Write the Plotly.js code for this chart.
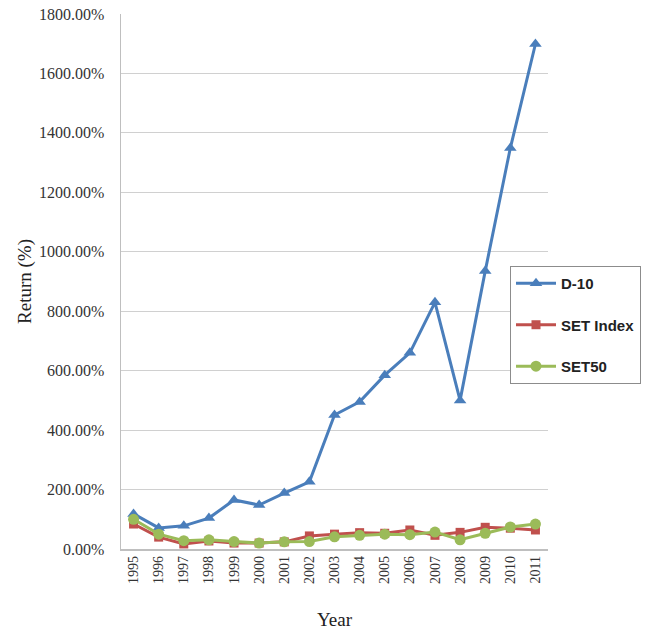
<!DOCTYPE html>
<html>
<head>
<meta charset="utf-8">
<script src="https://cdn.plot.ly/plotly-3.0.1.min.js"></script>
<style>
html,body{margin:0;padding:0;background:#fff;}
#chart{width:654px;height:630px;}
</style>
</head>
<body>
<div id="chart"></div>
<script>
// Years on the category axis
const years = ["1995","1996","1997","1998","1999","2000","2001","2002","2003",
               "2004","2005","2006","2007","2008","2009","2010","2011"];

// Cumulative return (%) per series
const d10 = [118, 71, 78, 104, 165, 148, 188, 226, 451, 495, 585, 660, 830, 500, 935, 1349, 1699];
const setIndex = [84, 40, 17, 27, 20, 20, 24, 44, 50, 55, 53, 64, 46, 56, 73, 70, 64];
const set50 = [100, 50, 28, 31, 25, 20, 24, 25, 41, 46, 50, 48, 57, 31, 53, 74, 84];

const yTicks = [0, 200, 400, 600, 800, 1000, 1200, 1400, 1600, 1800];
const yTickText = yTicks.map(v => v.toFixed(2) + "%");

const traces = [
  {x: years, y: d10, name: "D-10", legendgroup: "g1", mode: "lines+markers",
   line: {color: "#4A7EBB", width: 3},
   marker: {symbol: "triangle-up", size: 11, color: "#4A7EBB"}},
  {x: years, y: setIndex, name: "SET Index", legendgroup: "g2", mode: "lines+markers",
   line: {color: "#C0504D", width: 3},
   marker: {symbol: "square", size: 9, color: "#C0504D"}},
  {x: years, y: set50, name: "SET50", legendgroup: "g3", mode: "lines+markers",
   line: {color: "#9BBB59", width: 3},
   marker: {symbol: "circle", size: 11, color: "#9BBB59"}}
];

const serif = "Liberation Serif, Times New Roman, serif";

const layout = {
  width: 654, height: 630,
  margin: {l: 121, r: 106, t: 14, b: 81, pad: 0},
  paper_bgcolor: "#fff", plot_bgcolor: "#fff",
  font: {family: serif, size: 14, color: "#333"},
  showlegend: true,
  xaxis: {
    type: "category",
    range: [-0.5, 16.5],
    showgrid: false,
    showline: true, linecolor: "#BFBFBF", linewidth: 1.5,
    ticks: "",
    tickangle: -90,
    tickfont: {family: serif, size: 14, color: "#333"},
    title: {text: "Year", font: {family: serif, size: 19, color: "#222"}, standoff: 30},
    fixedrange: true
  },
  yaxis: {
    range: [0, 1800],
    tickvals: yTicks, ticktext: yTickText,
    showgrid: true, gridcolor: "#D0D0D0", gridwidth: 1,
    showline: true, linecolor: "#BFBFBF", linewidth: 1.5,
    zeroline: false,
    ticks: "",
    ticklabelstandoff: 12,
    tickfont: {family: serif, size: 16, color: "#333"},
    title: {text: "Return (%)", font: {family: serif, size: 19, color: "#222"}, standoff: 2},
    fixedrange: true
  },
  legend: {
    x: 0.911, xanchor: "left", y: 0.529, yanchor: "top",
    bgcolor: "#fff", bordercolor: "#8C8C8C", borderwidth: 1,
    font: {family: "Liberation Sans, Arial, sans-serif", size: 15, color: "#222", weight: "bold"},
    tracegroupgap: 19,
    itemwidth: 40,
    entrywidth: 92
  }
};

Plotly.newPlot("chart", traces, layout, {displayModeBar: false, staticPlot: true});
</script>
</body>
</html>
